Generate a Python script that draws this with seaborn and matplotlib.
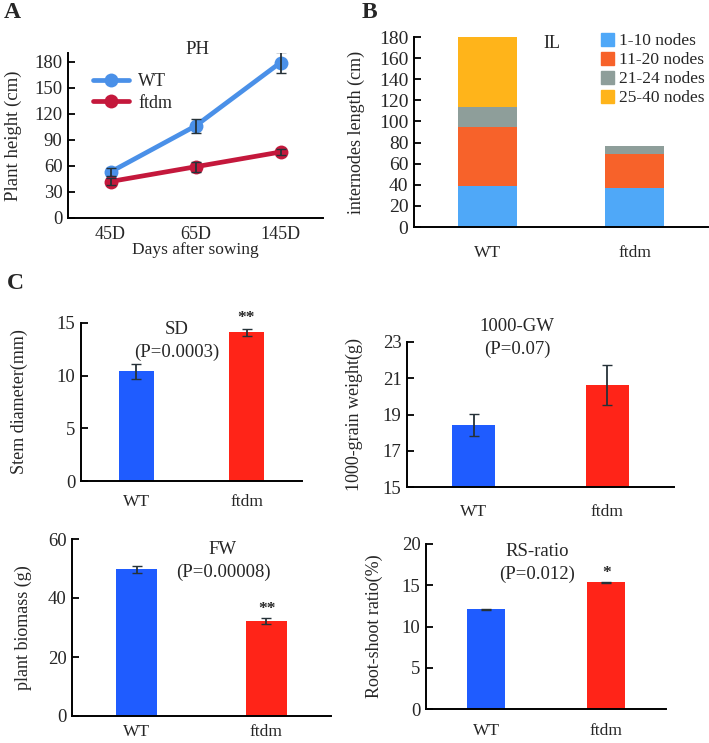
import pandas as pd
import matplotlib
matplotlib.use("Agg")
import matplotlib.pyplot as plt
import matplotlib.patches as mpatches
import seaborn as sns

# === Data ===
days = ["45D", "65D", "145D"]
ph_wt = [53, 106, 179]
ph_wt_err = [5, 8, 12]
ph_ftdm = [42, 59, 76]
ph_ftdm_err = [4, 6, 4]

il_groups = ["WT", "ftdm"]
il_segments = ["1-10 nodes", "11-20 nodes", "21-24 nodes", "25-40 nodes"]
il_wt = [39, 55.5, 19.5, 66]
il_ftdm = [37, 32, 8, 0]

lines = ["WT", "ftdm"]
sd_vals = [10.4, 14.1]
sd_err = [0.7, 0.35]
gw_vals = [18.42, 20.62]
gw_err = [0.6, 1.1]
fw_vals = [49.7, 32.2]
fw_err = [1.3, 0.95]
rs_vals = [12.12, 15.38]
rs_err = [0.06, 0.06]

# === Style ===
sns.set_theme(style="white")
plt.rcParams["font.family"] = ["Liberation Serif", "DejaVu Serif"]

W, H = 709, 743
fig = plt.figure(figsize=(W / 100, H / 100), dpi=100)

blue_line = "#4a90e8"
red_line = "#c4183c"
bar_blue = "#1f5cff"
bar_red = "#ff2418"
seg_colors = ["#4fa8f8", "#f7622a", "#8e9e9a", "#ffb41a"]
err_col = "#263238"


def add_ax(left, top, right, bottom):
    return fig.add_axes([left / W, 1 - bottom / H, (right - left) / W, (bottom - top) / H])


def style_ax(ax, n, xfs=12.5, yfs=13.5, pad=7):
    for s in ["top", "right"]:
        ax.spines[s].set_visible(False)
    for s in ["left", "bottom"]:
        ax.spines[s].set_color("black")
        ax.spines[s].set_linewidth(1.4)
    ax.set_xlim(-0.5, n - 0.5)
    ax.set_xticks(range(n))
    ax.set_xticks([i + 0.5 for i in range(n)], minor=True)
    ax.tick_params(axis="x", which="major", length=0, labelsize=xfs, pad=pad)
    ax.tick_params(axis="x", which="minor", direction="in", length=5, width=1.3, color="black")
    ax.tick_params(axis="y", direction="in", length=5, width=1.3, color="black", labelsize=yfs, pad=4, left=True)
    ax.grid(False)


def label_x(ax, px, left, right):
    ax.yaxis.set_label_coords((px - left) / (right - left), 0.5)


# === Panel A: plant height ===
left, top, right, bottom = 68, 53, 323, 218
axA = add_ax(left, top, right, bottom)
df_ph = pd.DataFrame({
    "pos": list(range(len(days))) * 2,
    "height": ph_wt + ph_ftdm,
    "err": ph_wt_err + ph_ftdm_err,
    "line": ["WT"] * len(days) + ["ftdm"] * len(days),
})
sns.lineplot(data=df_ph, x="pos", y="height", hue="line", palette=[blue_line, red_line],
             marker="o", markersize=10, markeredgewidth=0, linewidth=3.4, ax=axA)
for name in lines:
    sub = df_ph[df_ph["line"] == name]
    axA.errorbar(sub["pos"], sub["height"], yerr=sub["err"], fmt="none",
                 ecolor=err_col, elinewidth=1.3, capsize=3.5, zorder=4)
style_ax(axA, len(days), xfs=13, yfs=13.5, pad=6)
axA.set_xticklabels(days)
axA.set_ylim(0, 190)
axA.set_yticks(range(0, 181, 30))
axA.set_ylabel("Plant height (cm)", fontsize=13.5)
label_x(axA, 22, left, right)
axA.set_xlabel("Days after sowing", fontsize=12.5, labelpad=-1)
axA.text(197 / W, 1 - 50 / H, "PH", transform=fig.transFigure, ha="center", va="center", fontsize=13.5)
axA.legend(loc="upper left", bbox_to_anchor=(93 / W, 1 - 73 / H), bbox_transform=fig.transFigure,
           frameon=False, fontsize=13, handlelength=2.0, handletextpad=0.5,
           labelspacing=0.25, borderpad=0, borderaxespad=0)

# === Panel B: internode length (stacked) ===
left, top, right, bottom = 414, 37, 708, 227
axB = add_ax(left, top, right, bottom)
cum_wt = [sum(il_wt[:i + 1]) for i in range(len(il_wt))]
cum_ftdm = [sum(il_ftdm[:i + 1]) for i in range(len(il_ftdm))]
for i in reversed(range(len(il_segments))):
    sns.barplot(x=il_groups, y=[cum_wt[i], cum_ftdm[i]], color=seg_colors[i],
                width=0.4, saturation=1, ax=axB, edgecolor="none")
style_ax(axB, len(il_groups), xfs=12.5, yfs=14, pad=13)
axB.set_ylim(0, 180)
axB.set_yticks(range(0, 181, 20))
axB.set_ylabel("internodes length (cm)", fontsize=13)
label_x(axB, 365, left, right)
axB.text(552 / W, 1 - 43 / H, "IL", transform=fig.transFigure, ha="center", va="center", fontsize=13)
handles = [mpatches.Patch(color=c, label=l) for c, l in zip(seg_colors, il_segments)]
axB.legend(handles=handles, loc="upper left", bbox_to_anchor=(601 / W, 1 - 33 / H),
           bbox_transform=fig.transFigure, frameon=False, fontsize=12.5,
           handlelength=0.75, handleheight=0.75, handletextpad=0.3,
           labelspacing=0.15, borderpad=0, borderaxespad=0)


# === Panel C: four bar charts ===
def bar_panel(rect, vals, errs, ylim, yticks, ylabel, ylabel_px, title, ptxt, title_xy, star, star_xy,
              pad, width):
    left, top, right, bottom = rect
    ax = add_ax(left, top, right, bottom)
    sns.barplot(x=lines, y=vals, hue=lines, palette=[bar_blue, bar_red], saturation=1,
                width=width, legend=False, ax=ax, edgecolor="none")
    ax.errorbar(range(len(lines)), vals, yerr=errs, fmt="none", ecolor=err_col,
                elinewidth=1.3, capsize=3.5)
    style_ax(ax, len(lines), xfs=12.5, yfs=13.5, pad=pad)
    ax.set_ylim(*ylim)
    ax.set_yticks(yticks)
    ax.set_ylabel(ylabel, fontsize=13)
    ax.set_xlabel("")
    label_x(ax, ylabel_px, left, right)
    tx, ty = title_xy
    ax.text(tx / W, 1 - ty / H, title, transform=fig.transFigure, ha="center", va="center", fontsize=13.5)
    ax.text(tx / W, 1 - (ty + 22) / H, ptxt, transform=fig.transFigure, ha="center", va="center", fontsize=13.5)
    if star:
        sx, sy = star_xy
        ax.text(sx / W, 1 - sy / H, star, transform=fig.transFigure, ha="center", va="center",
                fontsize=12.5, fontweight="bold")
    return ax


bar_panel((81, 323, 302, 481), sd_vals, sd_err, (0, 15), [0, 5, 10, 15], "Stem diameter(mm)", 28,
          "SD", "(P=0.0003)", (177, 330), "**", (246, 318), 9, 0.32)
bar_panel((407, 342, 674, 487), gw_vals, gw_err, (15, 23), [15, 17, 19, 21, 23], "1000-grain weight(g)", 363,
          "1000-GW", "(P=0.07)", (517, 327), None, None, 12, 0.32)
bar_panel((72, 539, 331, 716), fw_vals, fw_err, (0, 60), [0, 20, 40, 60], "plant biomass (g)", 32,
          "FW", "(P=0.00008)", (223, 550), "**", (267, 609), 6, 0.32)
bar_panel((426, 544, 666, 709), rs_vals, rs_err, (0, 20), [0, 5, 10, 15, 20], "Root-shoot ratio(%)", 383,
          "RS-ratio", "(P=0.012)", (537, 552), "*", (607, 573), 10, 0.31)

# === Panel letters ===
for letter, (lx, ly) in {"A": (12, 13), "B": (369, 12), "C": (15, 283)}.items():
    fig.text(lx / W, 1 - ly / H, letter, ha="center", va="center", fontsize=17, fontweight="bold")

fig.savefig("out.png", dpi=100)
